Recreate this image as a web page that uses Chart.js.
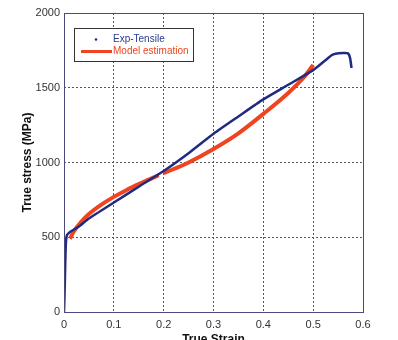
<!DOCTYPE html>
<html>
<head>
<meta charset="utf-8">
<script src="https://cdn.jsdelivr.net/npm/chart.js@4.4.1/dist/chart.umd.min.js"></script>
<style>
  html, body { margin: 0; padding: 0; background: #fff; overflow: hidden; }
  #wrap { width: 398px; height: 340px; overflow: hidden; }
  canvas { display: block; }
</style>
</head>
<body>
<div id="wrap"><canvas id="c" width="398" height="352"></canvas></div>
<script>
// Experimental tensile curve (true strain, true stress in MPa)
const expStrain = [0, 0.001, 0.002, 0.003, 0.004, 0.006, 0.012, 0.03, 0.05, 0.1, 0.15, 0.2, 0.25, 0.3, 0.35, 0.4, 0.45, 0.5, 0.537, 0.545, 0.56, 0.57, 0.574, 0.577];
const expStress = [0, 100, 250, 390, 470, 515, 535, 572, 625, 732, 838, 943, 1062, 1192, 1308, 1422, 1520, 1618, 1718, 1728, 1732, 1730, 1700, 1632];

// Model estimation, two fitted branches (null splits them)
const modelStrain = [0.012, 0.02, 0.035, 0.05, 0.075, 0.1, 0.125, 0.15, 0.17, 0.19, 0.195, 0.2, 0.25, 0.3, 0.35, 0.4, 0.45, 0.48, 0.5];
const modelStress = [490, 540, 605, 655, 718, 770, 815, 855, 885, 915, null, 928, 1000, 1090, 1195, 1325, 1465, 1565, 1652];

const xTicks = [0, 0.1, 0.2, 0.3, 0.4, 0.5, 0.6];
const yTicks = [0, 500, 1000, 1500, 2000];

const toPoints = (xs, ys) => xs.map((x, i) => ({ x: x, y: ys[i] }));

const FONT = 'Liberation Sans, Arial, sans-serif';
const BLUE = '#1f2b82';
const RED = '#ee4420';

// Plot frame and boxed legend inside the axes
const framePlugin = {
  id: 'frameAndLegend',
  afterDatasetsDraw(chart) {
    const { ctx, chartArea: a } = chart;
    ctx.save();
    ctx.strokeStyle = '#4a4a7c';
    ctx.lineWidth = 1;
    ctx.strokeRect(Math.round(a.left) + 0.5, Math.round(a.top) + 0.5,
                   Math.round(a.right - a.left), Math.round(a.bottom - a.top));

    // legend box
    const bx = 74.5, by = 28.5, bw = 119, bh = 33;
    ctx.fillStyle = '#fff';
    ctx.fillRect(bx, by, bw, bh);
    ctx.strokeStyle = '#333';
    ctx.strokeRect(bx, by, bw, bh);

    const ds = chart.data.datasets;
    ctx.font = '10px ' + FONT;
    ctx.textBaseline = 'middle';
    ctx.textAlign = 'left';

    // row 1: point marker
    ctx.fillStyle = ds[0].borderColor;
    ctx.beginPath();
    ctx.arc(96, 39.5, 1.3, 0, Math.PI * 2);
    ctx.fill();
    ctx.fillStyle = '#2a3a8c';
    ctx.fillText(ds[0].label, 113, 39.5);

    // row 2: thick line
    ctx.strokeStyle = ds[1].borderColor;
    ctx.lineWidth = 3;
    ctx.beginPath();
    ctx.moveTo(81, 51.5);
    ctx.lineTo(112, 51.5);
    ctx.stroke();
    ctx.fillStyle = RED;
    ctx.fillText(ds[1].label, 113, 51.5);
    ctx.restore();
  }
};

new Chart(document.getElementById('c'), {
  type: 'line',
  data: {
    datasets: [
      {
        label: 'Exp-Tensile',
        data: toPoints(expStrain, expStress),
        borderColor: BLUE,
        backgroundColor: BLUE,
        borderWidth: 2.5,
        pointRadius: 0,
        tension: 0.2
      },
      {
        label: 'Model estimation',
        data: toPoints(modelStrain, modelStress),
        borderColor: RED,
        backgroundColor: RED,
        borderWidth: 4,
        pointRadius: 0,
        cubicInterpolationMode: 'monotone',
        spanGaps: false
      }
    ]
  },
  options: {
    responsive: false,
    animation: false,
    devicePixelRatio: 1,
    layout: { padding: { top: 13, right: 35, bottom: 0, left: 0 } },
    plugins: { legend: { display: false }, tooltip: { enabled: false } },
    scales: {
      x: {
        type: 'linear',
        min: 0, max: 0.6,
        afterBuildTicks: s => { s.ticks = xTicks.map(v => ({ value: v })); },
        afterFit: s => { s.height = 40; },
        grid: { color: '#555', lineWidth: 1, drawTicks: false },
        border: { display: false, dash: [2, 2] },
        ticks: { padding: 6, color: '#333', font: { family: FONT, size: 11 }, maxRotation: 0,
                 callback: v => String(v) },
        title: { display: true, text: 'True Strain', color: '#111',
                 font: { family: FONT, size: 12, weight: 'bold' }, padding: { top: 0, bottom: 5 } }
      },
      y: {
        type: 'linear',
        min: 0, max: 2000,
        afterBuildTicks: s => { s.ticks = yTicks.map(v => ({ value: v })); },
        afterFit: s => { s.width = 64; },
        grid: { color: '#555', lineWidth: 1, drawTicks: false },
        border: { display: false, dash: [2, 2] },
        ticks: { padding: 4, color: '#333', font: { family: FONT, size: 11 },
                 callback: v => String(v) },
        title: { display: true, text: 'True stress (MPa)', color: '#111',
                 font: { family: FONT, size: 12, weight: 'bold' }, padding: { top: 20, bottom: 0 } }
      }
    }
  },
  plugins: [framePlugin]
});
</script>
</body>
</html>
